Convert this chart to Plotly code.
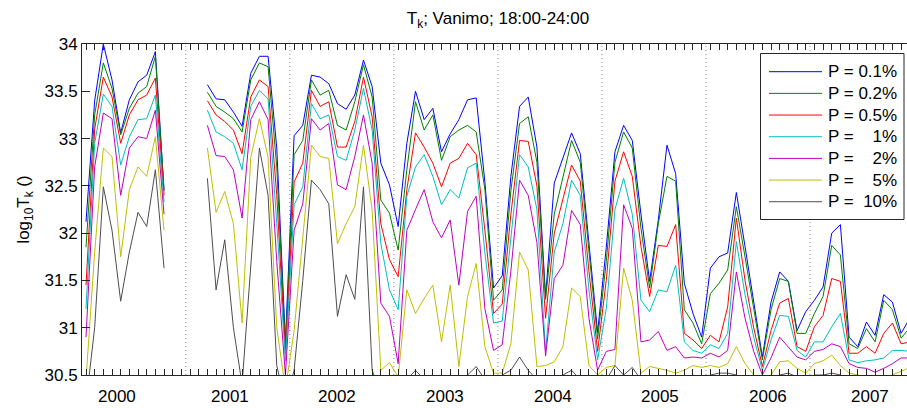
import plotly.graph_objects as go

# ---- data ---------------------------------------------------------------
# month index along the time axis (0 = first monthly sample)
month_index = list(range(96))

series_names = ["P = 0.1%", "P = 0.2%", "P = 0.5%",
                "P =\u00a0\u00a0\u00a0 1%", "P =\u00a0\u00a0\u00a0 2%",
                "P =\u00a0\u00a0\u00a0 5%", "P =\u00a0 10%"]

N = None
p01 = [32.12, 33.40, 34.00, 33.62, 33.06, 33.41, 33.60, 33.67, 33.92, 32.45,
       N, N, N, N,
       33.57, 33.42, 33.41, 33.28, 33.13, 33.69, 33.87, 33.87, 32.90, 30.85,
       33.03, 33.14, 33.67, 33.65, 33.58, 33.37, 33.31, 33.46, 33.83, 33.55, 32.74, 32.51,
       32.07, 32.95, 33.50, 33.20, 33.32, 32.86, 33.05, 33.20, 33.41, 33.43, 32.54, 31.42,
       31.55, 32.60, 33.34, 33.44, 32.91, 31.33, 32.53, 32.80, 33.06, 32.84, 31.90, 30.95,
       31.85, 32.86, 33.14, 32.98, 32.20, 31.49, 32.14, 32.93, 32.63, 31.47, 31.15, 30.90,
       31.63, 31.75, 31.79, 32.43, 31.86, 31.29, 30.69, 31.27, 31.59, 31.49, 30.97, 31.17,
       31.29, 31.43, 32.00, 32.09, 30.90, 30.80, 31.06, 30.92, 31.35, 31.27, 30.94, 31.10]
p02 = [31.85, 33.25, 33.80, 33.53, 33.04, 33.32, 33.48, 33.55, 33.87, 32.45,
       N, N, N, N,
       33.49, 33.34, 33.28, 33.21, 33.07, 33.62, 33.80, 33.76, 32.70, 30.78,
       32.83, 32.98, 33.62, 33.46, 33.51, 33.14, 33.09, 33.39, 33.78, 33.44, 32.35, 32.21,
       31.82, 32.67, 33.39, 33.09, 33.25, 32.77, 33.02, 33.09, 33.14, 33.07, 32.46, 31.29,
       31.40, 32.45, 33.16, 33.23, 32.75, 31.30, 32.20, 32.60, 32.98, 32.75, 31.80, 30.88,
       31.70, 32.75, 33.07, 32.90, 32.05, 31.42, 32.10, 32.60, 32.55, 31.19, 31.05, 30.83,
       31.36, 31.47, 31.61, 32.28, 31.75, 31.20, 30.66, 31.19, 31.52, 31.49, 30.94, 30.94,
       31.15, 31.33, 31.87, 31.77, 30.83, 30.78, 30.99, 30.85, 31.29, 31.19, 30.89, 31.00]
p05 = [31.45, 33.10, 33.65, 33.44, 32.95, 33.25, 33.41, 33.46, 33.64, 32.40,
       N, N, N, N,
       33.40, 33.25, 33.18, 33.09, 32.84, 33.44, 33.62, 33.55, 32.40, 30.72,
       32.54, 32.74, 33.51, 33.34, 33.39, 32.91, 32.91, 33.18, 33.65, 33.23, 32.10, 31.72,
       31.54, 32.46, 33.06, 32.91, 32.74, 32.49, 32.74, 32.79, 32.95, 32.83, 32.03, 31.15,
       31.25, 32.20, 32.98, 32.97, 32.50, 31.10, 32.00, 32.35, 32.72, 32.55, 31.60, 30.75,
       31.50, 32.55, 32.86, 32.60, 31.86, 31.33, 31.87, 31.86, 32.09, 30.94, 30.87, 30.78,
       30.92, 30.85, 31.22, 32.16, 31.50, 31.00, 30.59, 30.97, 31.26, 31.31, 30.80, 30.75,
       31.01, 31.13, 31.52, 31.49, 30.73, 30.73, 30.80, 30.73, 30.94, 31.05, 30.83, 30.85]
p1 = [31.20, 32.95, 33.47, 33.34, 32.72, 33.02, 33.20, 33.21, 33.46, 32.33,
      N, N, N, N,
      33.30, 33.07, 33.02, 32.95, 32.67, 33.34, 33.51, 33.42, 32.10, 30.65,
      32.30, 32.49, 33.37, 33.21, 33.25, 32.81, 32.77, 33.09, 33.53, 33.09, 31.89, 31.40,
      31.19, 32.39, 32.70, 32.83, 32.60, 32.30, 32.46, 32.37, 32.69, 32.74, 31.79, 31.05,
      31.07, 31.95, 32.83, 32.70, 32.25, 30.75, 31.80, 32.10, 32.56, 32.40, 31.40, 30.66,
      31.20, 32.25, 32.58, 32.20, 31.29, 31.17, 31.40, 31.38, 31.66, 30.85, 30.76, 30.73,
      30.82, 30.78, 30.94, 31.91, 31.35, 30.90, 30.55, 30.87, 31.13, 31.12, 30.76, 30.69,
      30.85, 30.85, 31.01, 31.15, 30.66, 30.63, 30.65, 30.66, 30.68, 30.76, 30.76, 30.75]
p2 = [30.90, 32.70, 33.27, 33.21, 32.40, 32.90, 33.02, 33.00, 33.30, 32.20,
      N, N, N, N,
      33.14, 32.82, 32.81, 32.67, 32.16, 33.20, 33.39, 33.20, 31.70, 30.50,
      32.03, 32.31, 33.21, 33.09, 33.16, 32.51, 32.46, 32.81, 33.25, 32.74, 31.26, 31.12,
      30.62, 32.03, 32.25, 32.46, 32.12, 31.95, 32.14, 31.45, 32.23, 32.39, 31.20, 30.76,
      30.82, 31.60, 32.56, 32.40, 31.90, 30.70, 31.52, 31.66, 32.24, 32.09, 31.10, 30.55,
      30.75, 30.77, 32.30, 32.05, 30.85, 30.87, 30.96, 30.76, 30.80, 30.68, 30.69, 30.68,
      30.73, 30.69, 30.76, 31.59, 31.10, 30.75, 30.50, 30.68, 30.90, 30.80, 30.69, 30.66,
      30.75, 30.77, 30.83, 30.80, 30.62, 30.58, 30.57, 30.53, 30.57, 30.62, 30.68, 30.68]
p5 = [30.45, 31.80, 32.90, 32.81, 31.75, 32.46, 32.70, 32.60, 33.02, 32.03,
      N, N, N, N,
      32.90, 32.22, 32.44, 32.10, 31.05, 32.80, 33.21, 32.80, 31.00, 30.35,
      30.97, 31.96, 32.93, 32.81, 32.79, 31.89, 32.10, 32.28, 32.93, 32.24, 30.55, 30.63,
      30.48, 31.40, 31.15, 31.31, 31.45, 30.85, 31.45, 30.59, 31.33, 31.68, 30.80, 30.52,
      30.52, 30.83, 31.80, 31.61, 30.59, 30.60, 30.64, 30.80, 31.42, 31.33, 30.60, 30.50,
      30.58, 30.60, 31.63, 31.29, 30.52, 30.59, 30.57, 30.55, 30.52, 30.55, 30.60, 30.58,
      30.60, 30.58, 30.62, 30.80, 30.62, 30.50, 30.45, 30.50, 30.64, 30.65, 30.57, 30.52,
      30.62, 30.65, 30.71, 30.60, 30.52, 30.50, 30.48, 30.47, 30.48, 30.50, 30.54, 30.58]
p10 = [30.20, 31.00, 32.49, 32.03, 31.28, 31.80, 32.22, 32.07, 32.67, 31.63,
       N, N, N, N,
       32.58, 31.40, 31.93, 31.00, 30.40, 31.70, 32.90, 32.40, 30.60, 30.20,
       30.55, 31.50, 32.56, 32.46, 32.31, 31.12, 31.56, 31.30, 32.49, 30.55, 30.30, 30.30,
       30.30, 30.45, 30.55, 30.45, 30.45, 30.45, 30.50, 30.45, 30.50, 30.59, 30.45, 30.45,
       30.50, 30.55, 30.69, 30.55, 30.45, 30.45, 30.45, 30.50, 30.55, 30.45, 30.40, 30.40,
       30.45, 30.60, 30.50, 30.58, 30.45, 30.45, 30.45, 30.45, 30.45, 30.45, 30.50, 30.45,
       30.50, 30.52, 30.52, 30.50, 30.45, 30.40, 30.40, 30.45, 30.50, 30.52, 30.48, 30.45,
       30.50, 30.50, 30.52, 30.50, 30.45, 30.45, 30.42, 30.40, 30.42, 30.42, 30.45, 30.45]

year_labels = ["2000", "2001", "2002", "2003", "2004", "2005", "2006", "2007"]
year_label_pos = [3.63, 16.55, 29.0, 41.4, 53.8, 66.23, 78.63, 90.45]
year_breaks = [11.5, 23.5, 35.5, 47.5, 59.5, 71.5, 83.5]
y_ticks = [30.5, 31, 31.5, 32, 32.5, 33, 33.5, 34]

series = [p01, p02, p05, p1, p2, p5, p10]
colors = ["#0000ff", "#008000", "#ff0000", "#00bfbf", "#bf00bf", "#bfbf00", "#4d4d4d"]

# ---- geometry -----------------------------------------------------------
W, H = 907, 408
ML, MR, MT, MB = 82, 0, 44, 33
X_RANGE = [-0.461, 94.68]
Y_RANGE = [30.5, 34]
FONT = "Arial, 'Liberation Sans', Helvetica, sans-serif"
AX = "#262626"


def paper_x(px):
    return (px - ML) / (W - ML - MR)


def paper_y(py):
    return (H - MB - py) / (H - MT - MB)


fig = go.Figure()
for vals, name, col in zip(series, series_names, colors):
    fig.add_trace(go.Scatter(x=month_index, y=vals, mode="lines", name=name,
                             line=dict(color=col, width=1), connectgaps=False,
                             showlegend=False, hoverinfo="skip"))

shapes = []
# dotted separators between years
for b in year_breaks:
    shapes.append(dict(type="line", xref="x", yref="paper", x0=b, x1=b, y0=0, y1=1,
                       line=dict(color="#8a8a8a", width=1, dash="1px,3px"), layer="below"))

annotations = []
# year labels under the time axis
for pos, lab in zip(year_label_pos, year_labels):
    annotations.append(dict(xref="x", yref="paper", x=pos, y=paper_y(396.5),
                            xanchor="center", yanchor="middle", text=lab, showarrow=False,
                            font=dict(family=FONT, size=17, color="black")))

# legend box
LEG_X0, LEG_X1, LEG_Y0, LEG_Y1 = 760.5, 904, 53.5, 219.5
shapes.append(dict(type="rect", xref="paper", yref="paper",
                   x0=paper_x(LEG_X0), x1=paper_x(LEG_X1),
                   y0=paper_y(LEG_Y1), y1=paper_y(LEG_Y0),
                   fillcolor="white", line=dict(color=AX, width=1), layer="above"))
for k, (name, col) in enumerate(zip(series_names, colors)):
    ry = 71.7 + 21.67 * k
    shapes.append(dict(type="line", xref="paper", yref="paper",
                       x0=paper_x(769), x1=paper_x(822), y0=paper_y(ry), y1=paper_y(ry),
                       line=dict(color=col, width=1), layer="above"))
    annotations.append(dict(xref="paper", yref="paper", x=paper_x(826), y=paper_y(ry),
                            xanchor="left", yanchor="middle", text=name, showarrow=False,
                            font=dict(family=FONT, size=17, color="black")))

fig.update_layout(
    width=W, height=H,
    margin=dict(l=ML, r=MR, t=MT, b=MB, pad=0),
    paper_bgcolor="white", plot_bgcolor="white",
    font=dict(family=FONT, size=17, color="black"),
    title=dict(text="T<sub>k</sub>; Vanimo; 18:00-24:00", x=498 / W, xref="container",
               xanchor="center", y=1 - 18 / H, yref="container", yanchor="middle",
               font=dict(family=FONT, size=17, color="black")),
    xaxis=dict(range=X_RANGE, tickmode="array", tickvals=month_index, ticks="inside",
               ticklen=6, tickwidth=1, tickcolor=AX, showticklabels=False,
               showline=True, linecolor=AX, linewidth=1, mirror="ticks",
               showgrid=False, zeroline=False),
    yaxis=dict(range=Y_RANGE, tickmode="array", tickvals=y_ticks,
               ticktext=[f"{v:g}" for v in y_ticks], ticks="inside", ticklen=8,
               tickwidth=1, tickcolor=AX, showline=True, linecolor=AX, linewidth=1,
               mirror=False, showgrid=False, zeroline=False,
               tickfont=dict(family=FONT, size=17, color="black"),
               title=dict(text="log<sub>10</sub>T<sub>k</sub> ()", standoff=10,
                          font=dict(family=FONT, size=17, color="black"))),
    yaxis2=dict(range=Y_RANGE, overlaying="y", anchor="x", side="right",
                tickmode="array", tickvals=y_ticks, ticks="inside", ticklen=4,
                tickcolor=AX, showticklabels=False, showline=False, showgrid=False,
                zeroline=False),
    shapes=shapes,
    annotations=annotations,
    showlegend=False,
)

fig.write_html("out.html")
